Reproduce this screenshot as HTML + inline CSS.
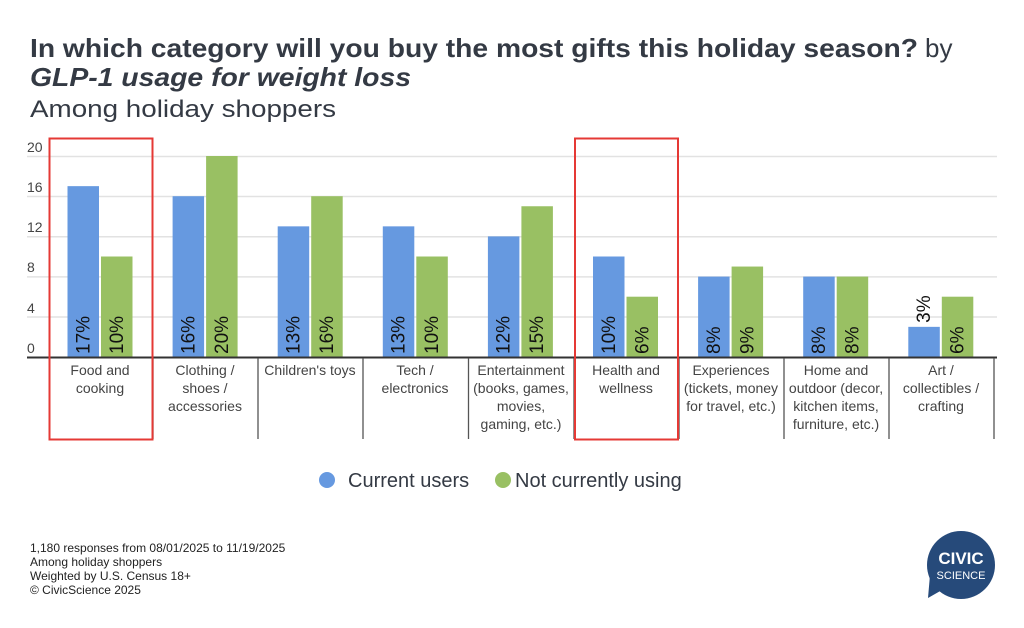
<!DOCTYPE html>
<html><head><meta charset="utf-8"><style>
body{margin:0;background:#fff;}
svg{display:block;font-family:"Liberation Sans",sans-serif;}
</style></head><body>
<svg width="1024" height="628" viewBox="0 0 1024 628" xmlns="http://www.w3.org/2000/svg">
<rect width="1024" height="628" fill="#fff"/>
<text x="30" y="57" font-size="26" font-weight="bold" fill="#343a44" textLength="888" lengthAdjust="spacingAndGlyphs">In which category will you buy the most gifts this holiday season?</text>
<text x="925" y="57" font-size="26" fill="#343a44">by</text>
<text x="30" y="86" font-size="26" font-weight="bold" font-style="italic" fill="#343a44" textLength="381" lengthAdjust="spacingAndGlyphs">GLP-1 usage for weight loss</text>
<text x="30" y="117" font-size="24" fill="#343a44" textLength="306" lengthAdjust="spacingAndGlyphs">Among holiday shoppers</text>
<g stroke="#e2e2e2" stroke-width="1.5">
<line x1="27" y1="156.5" x2="997" y2="156.5"/>
<line x1="27" y1="196.5" x2="997" y2="196.5"/>
<line x1="27" y1="236.7" x2="997" y2="236.7"/>
<line x1="27" y1="276.9" x2="997" y2="276.9"/>
<line x1="27" y1="317" x2="997" y2="317"/>
</g>
<g font-size="14" fill="#444">
<text x="27" y="152">20</text><text x="27" y="192">16</text><text x="27" y="232">12</text>
<text x="27" y="272">8</text><text x="27" y="313">4</text><text x="27" y="353">0</text>
</g>
<g id="bars"></g>
<line x1="27" y1="357.5" x2="997" y2="357.5" stroke="#333" stroke-width="2"/>
<g stroke="#555" stroke-width="1.3">
<line x1="153" y1="358" x2="153" y2="439"/><line x1="258" y1="358" x2="258" y2="439"/>
<line x1="363" y1="358" x2="363" y2="439"/><line x1="468.5" y1="358" x2="468.5" y2="439"/>
<line x1="574" y1="358" x2="574" y2="439"/><line x1="679" y1="358" x2="679" y2="439"/>
<line x1="784" y1="358" x2="784" y2="439"/><line x1="889" y1="358" x2="889" y2="439"/>
<line x1="994" y1="358" x2="994" y2="439"/>
</g>
<g font-size="14" fill="#444" text-anchor="middle">
<text x="100" y="375">Food and</text><text x="100" y="393">cooking</text>
<text x="205" y="375">Clothing /</text><text x="205" y="393">shoes /</text><text x="205" y="411">accessories</text>
<text x="310" y="375">Children's toys</text>
<text x="415" y="375">Tech /</text><text x="415" y="393">electronics</text>
<text x="521" y="375">Entertainment</text><text x="521" y="393">(books, games,</text><text x="521" y="411">movies,</text><text x="521" y="429">gaming, etc.)</text>
<text x="626" y="375">Health and</text><text x="626" y="393">wellness</text>
<text x="731" y="375">Experiences</text><text x="731" y="393">(tickets, money</text><text x="731" y="411">for travel, etc.)</text>
<text x="836" y="375">Home and</text><text x="836" y="393">outdoor (decor,</text><text x="836" y="411">kitchen items,</text><text x="836" y="429">furniture, etc.)</text>
<text x="941" y="375">Art /</text><text x="941" y="393">collectibles /</text><text x="941" y="411">crafting</text>
</g>
<rect x="49.5" y="138.5" width="103" height="301" fill="none" stroke="#e53935" stroke-width="2"/>
<rect x="575" y="138.5" width="103" height="301" fill="none" stroke="#e53935" stroke-width="2"/>
<circle cx="327" cy="480" r="8" fill="#6699e0"/>
<text x="348" y="487" font-size="20" fill="#343a44">Current users</text>
<circle cx="503" cy="480" r="8" fill="#99c063"/>
<text x="515" y="487" font-size="20" fill="#343a44">Not currently using</text>
<g font-size="12" fill="#222">
<text x="30" y="552">1,180 responses from 08/01/2025 to 11/19/2025</text>
<text x="30" y="566">Among holiday shoppers</text>
<text x="30" y="580">Weighted by U.S. Census 18+</text>
<text x="30" y="594">© CivicScience 2025</text>
</g>
<circle cx="961" cy="565" r="34" fill="#264a7a"/>
<polygon points="930,575 942,590 928,598" fill="#264a7a"/>
<text x="961" y="564" font-size="17" font-weight="bold" fill="#fff" text-anchor="middle">CIVIC</text>
<text x="961" y="579" font-size="11" fill="#fff" text-anchor="middle">SCIENCE</text>
</svg>
<script>
var d=[[17,10],[16,20],[13,16],[13,10],[12,15],[10,6],[8,9],[8,8],[3,6]];
var g=document.getElementById('bars'),ns='http://www.w3.org/2000/svg',s='';
d.forEach(function(v,i){
 var x0=48+i*105.1+19.5;
 [0,1].forEach(function(k){
  var x=x0+k*33.5,h=v[k]*10.05,y=357-h;
  s+='<rect x="'+x+'" y="'+y+'" width="31.5" height="'+h+'" fill="'+(k?'#99c063':'#6699e0')+'"/>';
  var cx=x+15.75+6;
  if(v[k]<5){ s+='<text transform="translate('+cx+','+(y-4)+') rotate(-90)" font-size="19" fill="#111">'+v[k]+'%</text>'; }
  else { s+='<text transform="translate('+cx+',354) rotate(-90)" font-size="19" fill="#111">'+v[k]+'%</text>'; }
 });
});
g.innerHTML=s;
</script>
</body></html>
